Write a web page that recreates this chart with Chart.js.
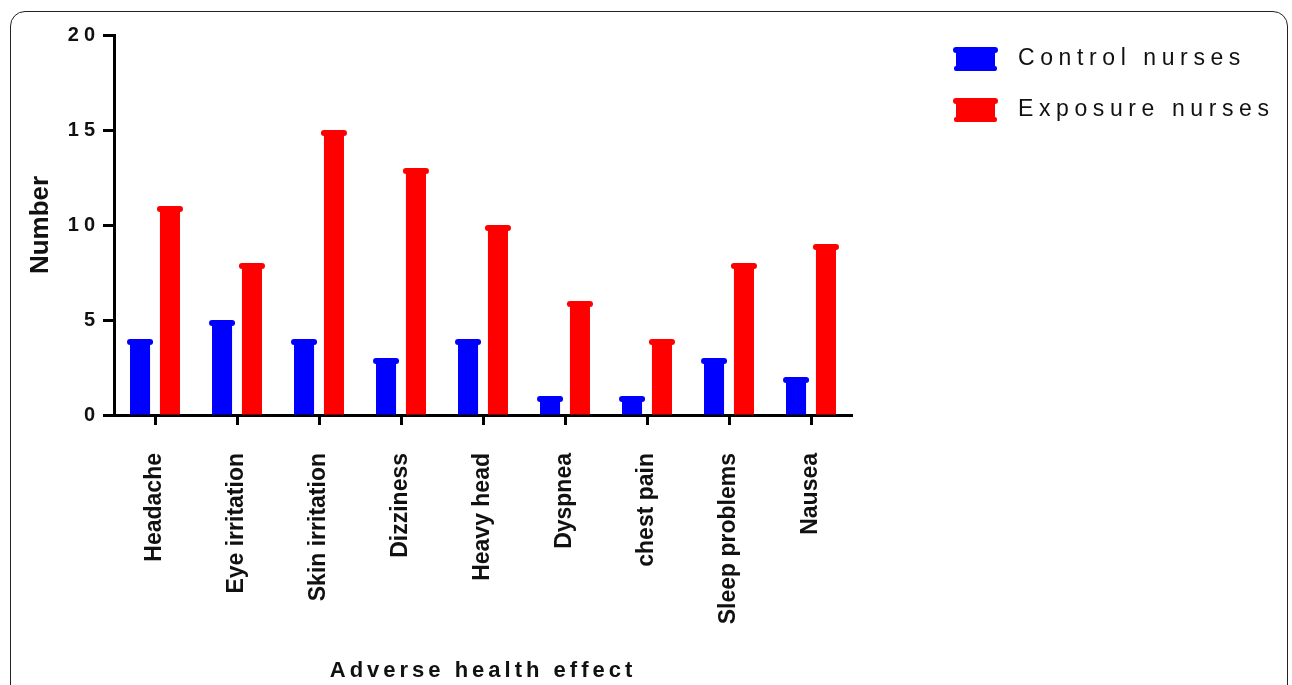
<!DOCTYPE html>
<html>
<head>
<meta charset="utf-8">
<script src="https://cdn.jsdelivr.net/npm/chart.js@4.4.1/dist/chart.umd.min.js"></script>
<style>
  html, body { margin: 0; padding: 0; background: #fff; overflow: hidden; }
  #wrap { position: relative; width: 1292px; height: 685px; }
  #frame {
    position: absolute; left: 10px; top: 11px; width: 1278px; height: 720px;
    border: 1.5px solid #222; border-radius: 15px; box-sizing: border-box;
  }
  #chart { position: absolute; left: 0; top: 0; }
</style>
</head>
<body>
<div id="wrap">
  <div id="frame"></div>
  <canvas id="chart" width="1292" height="685"></canvas>
</div>
<script>
// datos
var categorias = ['Headache', 'Eye irritation', 'Skin irritation', 'Dizziness', 'Heavy head',
                  'Dyspnea', 'chest pain', 'Sleep problems', 'Nausea'];
var controlNurses = [4, 5, 4, 3, 4, 1, 1, 3, 2];
var exposureNurses = [11, 8, 15, 13, 10, 6, 4, 8, 9];
var yTicks = [0, 5, 10, 15, 20];
var serieNombres = ['Control nurses', 'Exposure nurses'];
var serieColores = ['#0000ff', '#ff0000'];

Chart.defaults.font.family = 'Arial, "Liberation Sans", sans-serif';
Chart.defaults.color = '#111';

// espaciado de letras por eje (labels / title)
var espaciado = {
    x: { labels: 0, title: 4 },
    y: { labels: 5, title: 0 }
};

var spacingPlugin = {
    id: 'spacing',
    beforeDraw: function (chart) {
        Object.keys(chart.scales).forEach(function (id) {
            var scale = chart.scales[id];
            if (scale._spaced) return;
            scale._spaced = true;
            var sp = espaciado[id] || {};
            ['drawLabels', 'drawTitle'].forEach(function (fn, i) {
                var orig = scale[fn];
                var val = i === 0 ? sp.labels : sp.title;
                scale[fn] = function (a) {
                    var ctx = this.ctx;
                    ctx.save();
                    ctx.letterSpacing = (val || 0) + 'px';
                    orig.call(this, a);
                    ctx.restore();
                };
            });
        });
    }
};

//tapa redondeada arriba de cada barra
var capPlugin = {
    id: 'caps',
    afterDatasetsDraw: function (chart) {
        var ctx = chart.ctx;
        ctx.save();
        chart.data.datasets.forEach(function (ds, i) {
            ctx.fillStyle = ds.backgroundColor;
            chart.getDatasetMeta(i).data.forEach(function (bar) {
                ctx.beginPath();
                ctx.roundRect(bar.x - bar.width / 2 - 3, bar.y, bar.width + 6, 6, 3);
                ctx.fill();
            });
        });
        ctx.restore();
    }
};

//leyenda a la derecha
var legendPlugin = {
    id: 'sideLegend',
    afterDraw: function (chart) {
        var ctx = chart.ctx;
        var x0 = chart.chartArea.right + 101;
        ctx.save();
        chart.data.datasets.forEach(function (ds, i) {
            var cy = 59 + i * 51;
            ctx.fillStyle = ds.backgroundColor;
            ctx.fillRect(x0 + 3, cy - 11, 39, 22);
            ctx.beginPath();
            ctx.roundRect(x0, cy - 12, 45, 6, 3);
            ctx.fill();
            ctx.beginPath();
            ctx.roundRect(x0 + 1, cy + 7, 43, 5, 2);
            ctx.fill();
            ctx.fillStyle = '#111';
            ctx.font = '23px Arial, "Liberation Sans", sans-serif';
            ctx.letterSpacing = '5.6px';
            ctx.textAlign = 'left';
            ctx.textBaseline = 'middle';
            ctx.fillText(ds.label, x0 + 65, cy);
        });
        ctx.restore();
    }
};

var ctx = document.getElementById('chart').getContext('2d');
new Chart(ctx, {
    type: 'bar',
    data: {
        labels: categorias,
        datasets: [{
            label: serieNombres[0],
            data: controlNurses,
            backgroundColor: serieColores[0],
            categoryPercentage: 0.73,
            barPercentage: 0.67
        }, {
            label: serieNombres[1],
            data: exposureNurses,
            backgroundColor: serieColores[1],
            categoryPercentage: 0.73,
            barPercentage: 0.67
        }]
    },
    options: {
        responsive: false,
        animation: false,
        layout: { padding: { left: 0, top: 35, right: 440, bottom: 0 } },
        plugins: { legend: { display: false }, tooltip: { enabled: false } },
        scales: {
            x: {
                z: 1,
                grid: { offset: false, drawOnChartArea: false, tickLength: 10, tickWidth: 3, tickColor: '#000' },
                border: { width: 3, color: '#000' },
                ticks: {
                    maxRotation: 90, minRotation: 90, padding: 28,
                    font: { size: 23, weight: 'bold' }, color: '#111'
                },
                title: {
                    display: true, text: 'Adverse health effect',
                    font: { size: 22, weight: 'bold' }, color: '#111',
                    padding: { top: 0, bottom: 1 }
                },
                afterFit: function (scale) { scale.height = 270; }
            },
            y: {
                z: 1,
                min: 0, max: 20,
                grid: { drawOnChartArea: false, tickLength: 11, tickWidth: 3, tickColor: '#000' },
                border: { width: 3, color: '#000' },
                afterBuildTicks: function (scale) {
                    scale.ticks = yTicks.map(function (v) { return { value: v }; });
                },
                ticks: { padding: 3, font: { size: 20, weight: 'bold' }, color: '#111' },
                title: {
                    display: true, text: 'Number',
                    font: { size: 26, weight: 'bold' }, color: '#111',
                    padding: { top: 25, bottom: 0 }
                },
                afterFit: function (scale) { scale.width = 114; }
            }
        }
    },
    plugins: [spacingPlugin, capPlugin, legendPlugin]
});
</script>
</body>
</html>
